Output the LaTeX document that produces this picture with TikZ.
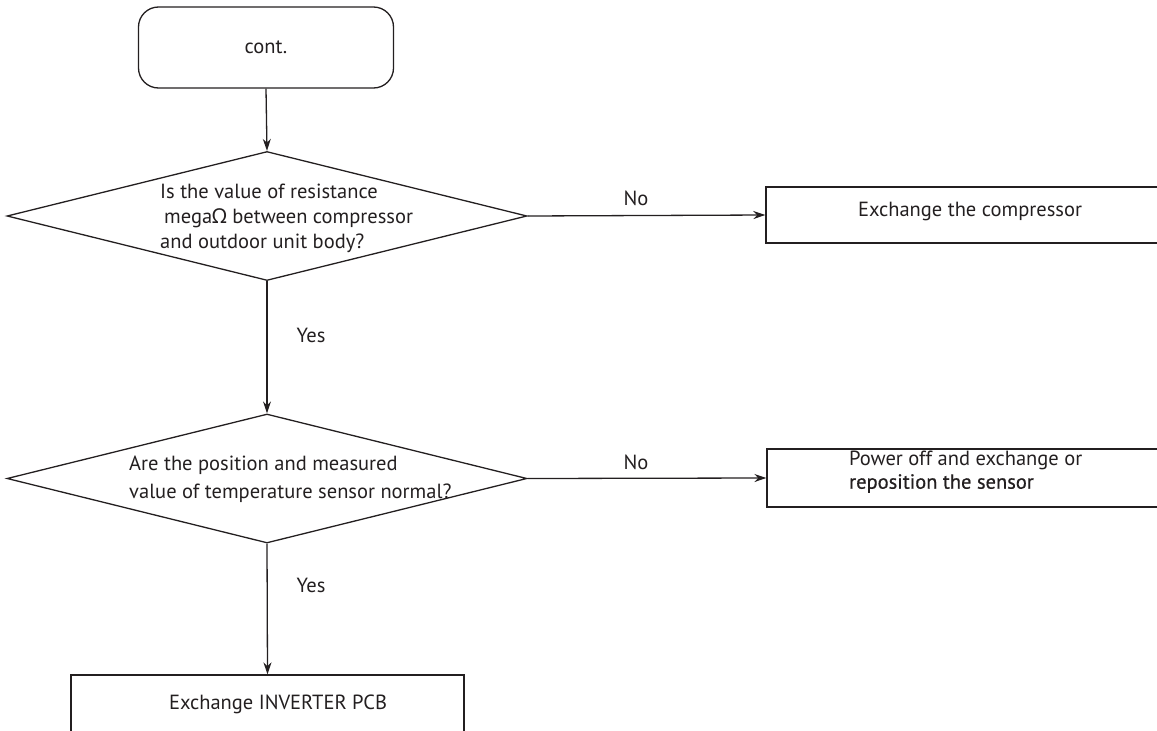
\documentclass[tikz,border=0pt]{standalone}
\usepackage{fontspec}
\setmainfont{PT Sans}
\newfontfamily\grk{Noto Sans}
\usetikzlibrary{shapes.geometric,arrows.meta}
\definecolor{ink}{HTML}{231F20}
\begin{document}
\begin{tikzpicture}[x=1pt,y=-1pt,
  line/.style={draw=ink,line width=1.3pt},
  arr/.style={line,-{Stealth[length=12pt,width=8pt]}},
  txt/.style={text=ink,font=\fontsize{20.5}{25}\selectfont,inner sep=0pt},
  decision/.style={line,shape=diamond,minimum width=520pt,minimum height=129pt,inner sep=0pt},
  procbox/.style={line,shape=rectangle,inner sep=0pt}]
\useasboundingbox (0,0) rectangle (1157,731);
\clip (0,0) rectangle (1157,731);
\node[line,rounded corners=20pt,minimum width=255pt,minimum height=81pt,txt] (cont) at (266,47.5) {cont.};
\node[decision] (d1) at (267,216) {};
\node[txt,anchor=west,align=left] (t1) at (160,218) {Is the value of resistance\\ \hspace{4pt}mega{\grk Ω} between compressor\\and outdoor unit body?};
\node[procbox,minimum width=420pt,minimum height=56pt] (b1) at (976,215) {};
\node[txt] (t2) at (970,211) {Exchange the compressor};
\node[decision] (d2) at (267,478.5) {};
\node[txt,anchor=west,align=left,font=\fontsize{20.5}{28}\selectfont] (t3) at (129,479) {Are the position and measured\\value of temperature sensor normal?};
\node[procbox,minimum width=420pt,minimum height=58pt] (b2) at (977,478) {};
\node[txt,anchor=west,align=left,font=\fontsize{20.5}{23}\selectfont] (t4) at (849,472) {Power off and exchange or\\{\addfontfeature{FakeBold=0.6}reposition the sensor}};
\node[procbox,minimum width=393pt,minimum height=90pt] (b3) at (267.5,720) {};
\node[txt] (t5) at (278,704) {Exchange INVERTER PCB};
\draw[arr] (cont.south) -- (d1.north);
\draw[arr] (d1.east) -- (b1.west);
\draw[arr] (d1.south) -- (d2.north);
\draw[arr] (d2.east) -- (b2.west);
\draw[arr] (d2.south) -- (b3.north);
\node[txt] (no1) at (636,198) {No};
\node[txt] (no2) at (636,462) {No};
\node[txt] (yes1) at (311,335) {Yes};
\node[txt] (yes2) at (311,585) {Yes};
\end{tikzpicture}
\end{document}
